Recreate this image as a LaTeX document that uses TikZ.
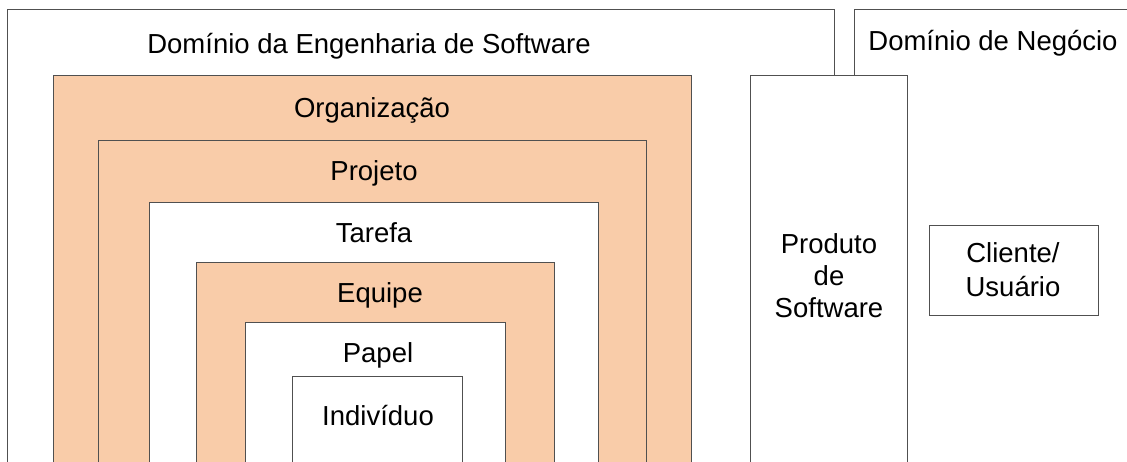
\documentclass[tikz,border=0pt]{standalone}
\usepackage{fontspec}
\setmainfont{Liberation Sans}
\definecolor{peach}{RGB}{249,204,169}
\definecolor{edge}{RGB}{80,80,80}
\begin{document}
\begin{tikzpicture}[x=1pt,y=-1pt,
  box/.style={draw=edge,line width=1pt,fill=white,anchor=north west,inner sep=0pt,outer sep=0pt},
  pbox/.style={box,fill=peach},
  lbl/.style={anchor=base,inner sep=0pt,font=\fontsize{27.5}{33}\selectfont,align=center}]
\useasboundingbox (0,0) rectangle (1127,461);
\clip (0,0) rectangle (1127,461);
\fill[white] (0,0) rectangle (1127,461);
% domains
\node[box,minimum width=827pt,minimum height=500pt] (se) at (7,9) {};
\node[box,minimum width=300pt,minimum height=500pt] (biz) at (854,9) {};
% nested boxes
\node[pbox,minimum width=638pt,minimum height=420pt] (org) at (53,75) {};
\node[pbox,minimum width=548pt,minimum height=360pt] (proj) at (98,140) {};
\node[box,minimum width=449pt,minimum height=300pt] (tar) at (149,202) {};
\node[pbox,minimum width=358pt,minimum height=240pt] (eq) at (196,262) {};
\node[box,minimum width=260pt,minimum height=180pt] (pap) at (245,322) {};
\node[box,minimum width=170pt,minimum height=120pt] (ind) at (292,376) {};
% product and client
\node[box,minimum width=157pt,minimum height=420pt] (prod) at (750,75) {};
\node[box,minimum width=169pt,minimum height=90pt] (cli) at (929,225) {};
% labels
\node[lbl] (tse) at (369,53) {Domínio da Engenharia de Software};
\node[lbl] (tbiz) at (993,50) {Domínio de Negócio};
\node[lbl] (torg) at (372,117) {Organização};
\node[lbl] (tproj) at (374,180) {Projeto};
\node[lbl] (ttar) at (374,242) {Tarefa};
\node[lbl] (teq) at (380,302) {Equipe};
\node[lbl] (tpap) at (378,362) {Papel};
\node[lbl] (tind) at (378,425) {Indivíduo};
\node[lbl] (tprod1) at (829,253) {Produto};
\node[lbl] (tprod2) at (829,285) {de};
\node[lbl] (tprod3) at (829,317) {Software};
\node[lbl] (tcli1) at (1013,262) {Cliente/};
\node[lbl] (tcli2) at (1013,296) {Usuário};
\end{tikzpicture}
\end{document}
